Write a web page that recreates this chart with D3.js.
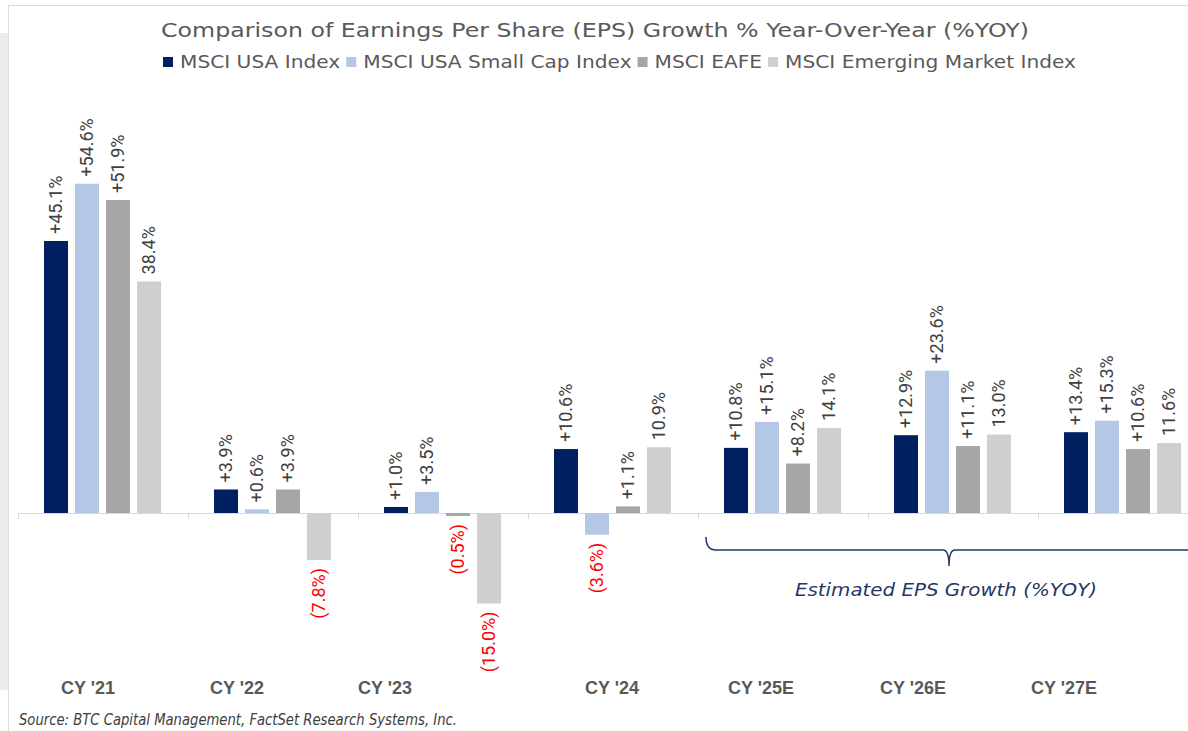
<!DOCTYPE html>
<html>
<head>
<meta charset="utf-8">
<script src="https://cdn.jsdelivr.net/npm/d3@7"></script>
<style>
  body { margin: 0; background: #fff; }
  svg { display: block; }
</style>
</head>
<body>
<svg id="chart" width="1188" height="731"></svg>
<script>
// data
const categories = ["CY '21", "CY '22", "CY '23", "CY '24", "CY '25E", "CY '26E", "CY '27E"];
const seriesNames = ["MSCI USA Index", "MSCI USA Small Cap Index", "MSCI EAFE", "MSCI Emerging Market Index"];
const usaIndex = [45.1, 3.9, 1.0, 10.6, 10.8, 12.9, 13.4];
const usaSmallCap = [54.6, 0.6, 3.5, -3.6, 15.1, 23.6, 15.3];
const eafe = [51.9, 3.9, -0.5, 1.1, 8.2, 11.1, 10.6];
const emerging = [38.4, -7.8, -15.0, 10.9, 14.1, 13.0, 11.6];
const showPlus = [true, true, true, false]; // EM labels have no "+" sign

const seriesValues = [usaIndex, usaSmallCap, eafe, emerging];
const colours = ["#002060", "#b4c7e7", "#a6a6a6", "#d0cece"];

const svg = d3.select('#chart');
const W = 1188, H = 731;
const bodyFont = '"DejaVu Sans", Lato, sans-serif';

// frame bits around the pasted chart
svg.append('rect').attr('x', 0).attr('y', 33).attr('width', 8).attr('height', 657).attr('fill', '#ececec');
svg.append('line').attr('x1', 8).attr('x2', W).attr('y1', 5.5).attr('y2', 5.5).attr('stroke', '#dcdcdc');
svg.append('line').attr('x1', 8.5).attr('x2', 8.5).attr('y1', 5).attr('y2', 731).attr('stroke', '#dcdcdc');

// title
svg.append('text')
    .attr('x', 595).attr('y', 37)
    .attr('text-anchor', 'middle')
    .attr('font-family', bodyFont)
    .attr('font-size', 20)
    .attr('fill', '#595959')
    .attr('textLength', 868)
    .attr('lengthAdjust', 'spacingAndGlyphs')
    .text('Comparison of Earnings Per Share (EPS)  Growth % Year-Over-Year (%YOY)');

// legend - stretched to the width it has in the reference
const legend = svg.append('g').attr('class', 'legend');
const legendTexts = seriesNames.map(name => legend.append('text')
    .attr('y', 68)
    .attr('font-family', bodyFont)
    .attr('font-size', 17)
    .attr('fill', '#595959')
    .text(name));
const natural = legendTexts.map(t => t.node().getComputedTextLength());
const legStart = 163, legEnd = 1076, sq = 10, gapIn = 7, gapOut = 6;
const k = (legEnd - legStart - seriesNames.length * (sq + gapIn) - (seriesNames.length - 1) * gapOut) / d3.sum(natural);
let lx = legStart;
seriesNames.forEach((name, i) => {
    legend.append('rect')
        .attr('x', lx).attr('y', 57).attr('width', sq).attr('height', sq)
        .attr('fill', colours[i]);
    const w = natural[i] * k;
    legendTexts[i].attr('x', lx + sq + gapIn)
        .attr('textLength', w)
        .attr('lengthAdjust', 'spacingAndGlyphs');
    lx += sq + gapIn + w + gapOut;
});

// scales
const zeroY = 513;
const y = d3.scaleLinear().domain([0, 45.1]).range([zeroY, 241]);

const x0 = d3.scaleBand().domain(categories).range([18, 18 + 170 * categories.length]);
const x1 = d3.scaleBand().domain(d3.range(4)).range([26, 143]).paddingInner(0.226);

// axis along zero
const axis = svg.append('g')
    .attr('transform', `translate(0,${zeroY})`)
    .call(d3.axisBottom(x0).tickSize(0).tickFormat(''));
axis.select('.domain').attr('stroke', '#d9d9d9').attr('d', `M18,0.5H${W}`);
axis.selectAll('.tick').remove();
axis.selectAll('line.sep')
    .data(categories.map((c, i) => 18 + 170 * i))
    .enter().append('line')
    .attr('class', 'sep')
    .attr('x1', d => d + 0.5).attr('x2', d => d + 0.5)
    .attr('y1', 0).attr('y2', 6)
    .attr('stroke', '#d9d9d9');

// bars
const flat = [];
categories.forEach((c, ci) => {
    seriesValues.forEach((vals, si) => flat.push({ cat: c, s: si, v: vals[ci] }));
});

const bars = svg.append('g').attr('class', 'bars');
bars.selectAll('rect')
    .data(flat)
    .enter().append('rect')
    .attr('x', d => x0(d.cat) + x1(d.s))
    .attr('width', x1.bandwidth())
    .attr('y', d => Math.min(y(d.v), zeroY))
    .attr('height', d => Math.abs(y(d.v) - zeroY))
    .attr('fill', d => colours[d.s]);

// value labels, rotated
const fmt = d => {
    if (d.v < 0) return `(${Math.abs(d.v).toFixed(1)}%)`;
    return (showPlus[d.s] ? '+' : '') + d.v.toFixed(1) + '%';
};
bars.selectAll('text')
    .data(flat)
    .enter().append('text')
    .attr('transform', d => {
        const cx = x0(d.cat) + x1(d.s) + x1.bandwidth() / 2 + 6;
        const yy = d.v >= 0 ? y(d.v) - 7 : y(d.v) + 8;
        return `translate(${cx},${yy}) rotate(-90)`;
    })
    .attr('text-anchor', d => d.v >= 0 ? 'start' : 'end')
    .attr('font-family', '"Liberation Sans Narrow", "Roboto", sans-serif')
    .attr('font-size', 18)
    .attr('fill', d => d.v < 0 ? '#ff0000' : '#404040')
    .text(fmt);

// category labels (they sit in a table under the chart, not quite centred on groups)
const labelShift = [-15, -36, -58, -1, -22, -40, -59];
svg.append('g').selectAll('text')
    .data(categories)
    .enter().append('text')
    .attr('x', (d, i) => x0(d) + x0.bandwidth() / 2 + labelShift[i])
    .attr('y', 694)
    .attr('text-anchor', 'middle')
    .attr('font-family', '"Liberation Sans", Arial, sans-serif')
    .attr('font-weight', 'bold')
    .attr('font-size', 18)
    .attr('fill', '#595959')
    .text(d => d);

// estimate brace
const bx0 = x0("CY '25E") + 8, bmid = 949, by = 550;
svg.append('path')
    .attr('d', `M${bx0},${by - 13} Q${bx0},${by} ${bx0 + 10},${by} L${bmid - 6},${by} Q${bmid},${by} ${bmid},${by + 16} Q${bmid},${by} ${bmid + 6},${by} L${W},${by}`)
    .attr('fill', 'none')
    .attr('stroke', '#1f3864')
    .attr('stroke-width', 1.5);
svg.append('text')
    .attr('x', 946).attr('y', 596)
    .attr('text-anchor', 'middle')
    .attr('font-family', bodyFont)
    .attr('font-style', 'italic')
    .attr('font-size', 17)
    .attr('fill', '#1f3864')
    .attr('textLength', 302)
    .attr('lengthAdjust', 'spacingAndGlyphs')
    .text('Estimated EPS Growth (%YOY)');

// source note
svg.append('text')
    .attr('x', 19).attr('y', 725)
    .attr('font-family', bodyFont)
    .attr('font-style', 'italic')
    .attr('font-size', 15)
    .attr('fill', '#404040')
    .attr('textLength', 438)
    .attr('lengthAdjust', 'spacingAndGlyphs')
    .text('Source:  BTC  Capital Management, FactSet Research Systems, Inc.');
</script>
</body>
</html>
